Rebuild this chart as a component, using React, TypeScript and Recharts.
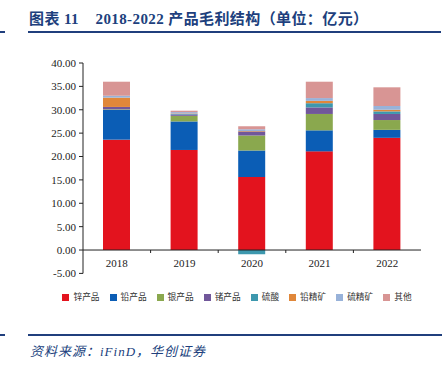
import { Bar, BarChart, Legend, ReferenceLine, XAxis, YAxis } from "recharts";

const YEARS = ["2018", "2019", "2020", "2021", "2022"];
const ZINC = [23.6, 21.4, 15.6, 21.1, 24.0];
const LEAD = [6.4, 6.1, 5.7, 4.5, 1.7];
const SILVER = [0.1, 1.2, 3.2, 3.5, 2.1];
const GERMANIUM = [0.5, 0.3, 0.85, 1.4, 1.3];
const ACID = [0.0, 0.1, -0.9, 0.9, 0.55];
const LEAD_CONC = [2.0, 0.1, 0.1, 0.5, 0.35];
const SULFUR_CONC = [0.4, 0.3, 0.4, 0.6, 0.8];
const OTHER = [3.0, 0.3, 0.6, 3.5, 4.0];
const Y_TICKS = [-5, 0, 5, 10, 15, 20, 25, 30, 35, 40];

const SERIES = [
  { key: "zinc", name: "锌产品", color: "#E3131E", values: ZINC },
  { key: "lead", name: "铅产品", color: "#0B5DB5", values: LEAD },
  { key: "silver", name: "银产品", color: "#8AA84E", values: SILVER },
  { key: "germanium", name: "锗产品", color: "#71579A", values: GERMANIUM },
  { key: "acid", name: "硫酸", color: "#3D98AE", values: ACID },
  { key: "leadConc", name: "铅精矿", color: "#E0873A", values: LEAD_CONC },
  { key: "sulfurConc", name: "硫精矿", color: "#98B2D9", values: SULFUR_CONC },
  { key: "other", name: "其他", color: "#D89594", values: OTHER },
];

const data = YEARS.map((year, i) => {
  const row: Record<string, string | number> = { year };
  SERIES.forEach((s) => (row[s.key] = s.values[i]));
  return row;
});

const NAVY = "#203F7D";
const SERIF = '"Liberation Serif", "Noto Sans CJK SC", serif';

function YearTick(props: any) {
  const { x, y, payload, index } = props;
  return (
    <g>
      <text x={x} y={y - 6} textAnchor="middle" fontSize={11} fontFamily={SERIF} fill="#222">
        {payload.value}
      </text>
      {index > 0 && (
        <line x1={x - 33.8} x2={x - 33.8} y1={y - 23.4} y2={y - 20.4} stroke="#222" strokeWidth={1} />
      )}
    </g>
  );
}

// keep legend in stacking order (recharts 3 sorts by name otherwise)
const legendOrder = (item: any) => SERIES.findIndex((s) => s.name === item.value);

export default function App() {
  return (
    <div style={{ position: "absolute", left: 0, top: 0, width: 446, height: 369, background: "#fff" }}>
      <div
        style={{
          position: "absolute",
          left: 29,
          top: 9,
          fontFamily: SERIF,
          fontWeight: 700,
          fontSize: 15,
          letterSpacing: 0.4,
          color: NAVY,
          whiteSpace: "pre",
          lineHeight: "20px",
        }}
      >
        {"图表 11    2018-2022 产品毛利结构（单位：亿元）"}
      </div>
      <div style={{ position: "absolute", left: 0, top: 31, width: 5, height: 2, background: NAVY }} />
      <div style={{ position: "absolute", left: 28, top: 31, width: 413, height: 2, background: NAVY }} />

      <div style={{ position: "absolute", left: 0, top: 0 }}>
        <BarChart
          width={446}
          height={310}
          data={data}
          stackOffset="sign"
          barSize={27}
          margin={{ top: 63, right: 25, left: 0, bottom: 26.6 }}
        >
          <XAxis
            dataKey="year"
            height={10}
            axisLine={false}
            tickLine={false}
            tickSize={0}
            tickMargin={0}
            tick={<YearTick />}
            interval={0}
          />
          <YAxis
            width={83}
            domain={[-5, 40]}
            ticks={Y_TICKS}
            interval={0}
            tickFormatter={(v: number) => v.toFixed(2)}
            axisLine={{ stroke: "#222" }}
            tickLine={{ stroke: "#222" }}
            tickSize={4}
            tickMargin={3}
            tick={{ fontSize: 11, fontFamily: SERIF, fill: "#222" }}
          />
          {SERIES.map((s) => (
            <Bar
              key={s.key}
              dataKey={s.key}
              name={s.name}
              stackId="a"
              fill={s.color}
              isAnimationActive={false}
            />
          ))}
          <ReferenceLine y={0} stroke="#222" strokeWidth={1} />
          <Legend
            layout="horizontal"
            verticalAlign="middle"
            align="center"
            iconType="square"
            iconSize={7}
            itemSorter={legendOrder}
            wrapperStyle={{
              top: 290,
              left: 19,
              width: 446,
              fontSize: 8.7,
              fontFamily: '"Noto Sans CJK SC", sans-serif',
              lineHeight: "14px",
            }}
            formatter={(value: string) => <span style={{ color: "#333" }}>{value}</span>}
          />
        </BarChart>
      </div>

      <div style={{ position: "absolute", left: 0, top: 334, width: 5, height: 2, background: NAVY }} />
      <div style={{ position: "absolute", left: 28, top: 334, width: 414, height: 2, background: NAVY }} />
      <div
        style={{
          position: "absolute",
          left: 30,
          top: 344,
          fontFamily: SERIF,
          fontStyle: "italic",
          fontSize: 13,
          letterSpacing: 1,
          color: NAVY,
          lineHeight: "16px",
          whiteSpace: "pre",
        }}
      >
        资料来源：iFinD，华创证券
      </div>
    </div>
  );
}
